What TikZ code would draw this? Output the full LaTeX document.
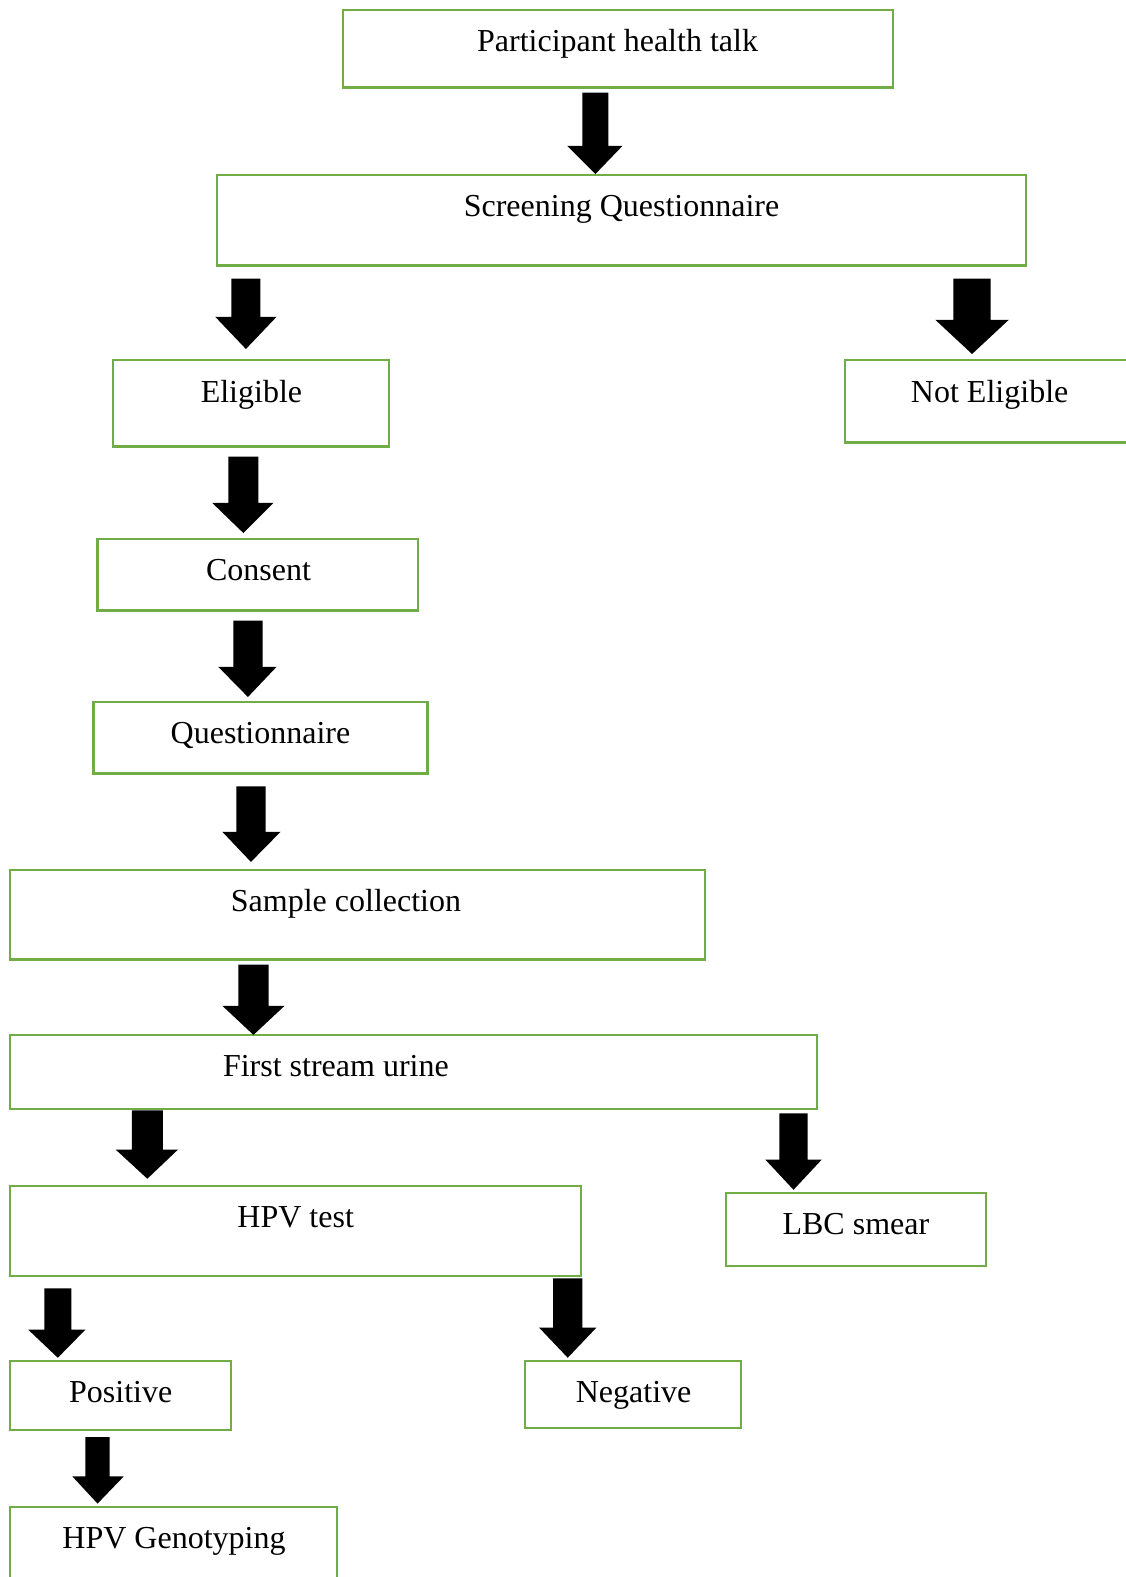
\documentclass[tikz,border=0pt]{standalone}
\usepackage{fontspec}
\setmainfont{Liberation Serif}
\usetikzlibrary{fit}
\definecolor{boxgreen}{HTML}{70AD47}
\tikzset{
  box/.style={draw=boxgreen, line width=1.1pt, inner sep=0pt, rectangle},
  txt/.style={font=\fontsize{16}{19}\selectfont, inner sep=0pt, anchor=base},
  barrowfill/.style={fill=black}
}
\newcommand\blockarrow[7]{\fill[barrowfill] (#1,#3) -- (#2,#3) -- (#2,#6) -- (#5,#6) -- ({(#1+#2)/2},#7) -- (#4,#6) -- (#1,#6) -- cycle;}
\begin{document}
\begin{tikzpicture}[x=0.5027pt,y=-0.5027pt]
\useasboundingbox[fill=white] (0,0) rectangle (1119,1568);
% boxes
\node[box, fit={(341,10) (888,87)}] (p) {};
\node[txt] (pt) at (614,51) {Participant health talk};
\node[box, fit={(216,174) (1020,264)}] (s) {};
\node[txt] (st) at (618,215) {Screening Questionnaire};
\node[box, fit={(112,358) (387,444)}] (e) {};
\node[txt] (et) at (250,400) {Eligible};
\node[box, fit={(840,358) (1140,440)}] (ne) {};
\node[txt] (net) at (984,400) {Not Eligible};
\node[box, fit={(97,536) (416,607)}] (c) {};
\node[txt] (ct) at (257,577) {Consent};
\node[box, fit={(93,698) (425,769)}] (q) {};
\node[txt] (qt) at (259,739) {Questionnaire};
\node[box, fit={(10,865) (701,954)}] (sc) {};
\node[txt] (sct) at (344,906) {Sample collection};
\node[box, fit={(10,1029) (812,1103)}] (u) {};
\node[txt] (ut) at (334,1070) {First stream urine};
\node[box, fit={(10,1179) (578,1269)}] (h) {};
\node[txt] (ht) at (294,1220) {HPV test};
\node[box, fit={(722,1186) (980,1259)}] (l) {};
\node[txt] (lt) at (851,1227) {LBC smear};
\node[box, fit={(10,1353) (230,1422)}] (pos) {};
\node[txt] (post) at (120,1394) {Positive};
\node[box, fit={(522,1353) (737,1420)}] (neg) {};
\node[txt] (negt) at (630,1394) {Negative};
\node[box, fit={(10,1498) (335,1590)}] (g) {};
\node[txt] (gt) at (173,1540) {HPV Genotyping};
% arrows
\blockarrow{579}{605}{92}{564}{619}{145}{173}
\blockarrow{230}{259}{277}{214}{275}{315}{347}
\blockarrow{948}{985}{277}{930}{1003}{318}{352}
\blockarrow{227}{257}{454}{211}{272}{500}{530}
\blockarrow{232}{261}{617}{217}{275}{663}{693}
\blockarrow{235}{264}{782}{221}{279}{827}{857}
\blockarrow{237}{267}{959}{221}{283}{1000}{1029}
\blockarrow{131}{162}{1104}{115}{177}{1143}{1172}
\blockarrow{775}{803}{1107}{761}{817}{1153}{1183}
\blockarrow{44}{71}{1281}{28}{85}{1322}{1350}
\blockarrow{550}{579}{1271}{536}{593}{1320}{1350}
\blockarrow{85}{109}{1429}{72}{123}{1468}{1495}
\end{tikzpicture}
\end{document}
